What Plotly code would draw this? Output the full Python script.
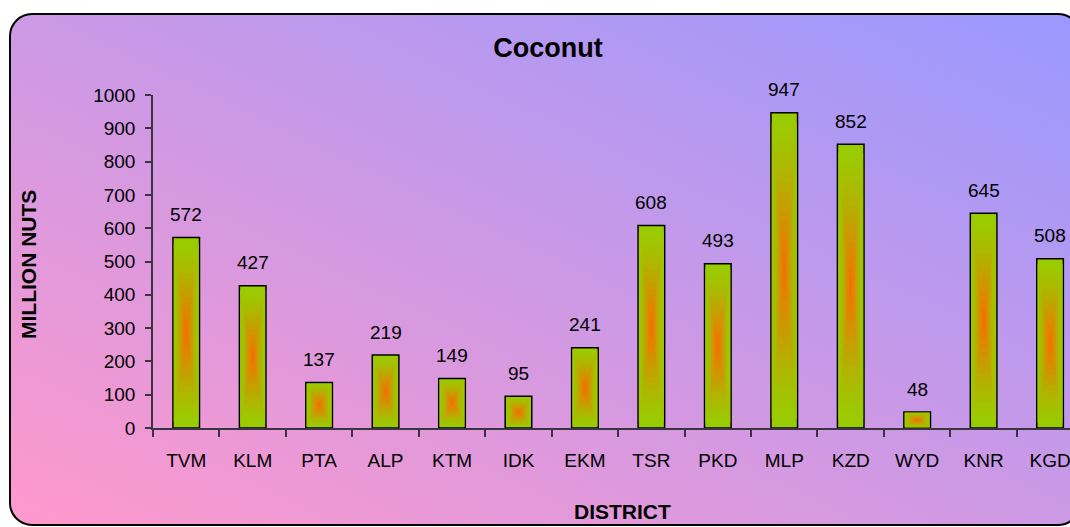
import base64
import plotly.graph_objects as go

# district-wise coconut production (million nuts)
districts = ['TVM', 'KLM', 'PTA', 'ALP', 'KTM', 'IDK', 'EKM', 'TSR', 'PKD', 'MLP', 'KZD', 'WYD', 'KNR', 'KGD']
production = [572, 427, 137, 219, 149, 95, 241, 608, 493, 947, 852, 48, 645, 508]
y_ticks = [0, 100, 200, 300, 400, 500, 600, 700, 800, 900, 1000]

W, H = 1070, 527
L, R, T, B = 153, 0, 95, 99
PW, PH = W - L - R, H - T - B

FONT = 'Arial, Liberation Sans, sans-serif'
GREEN = (153, 204, 0)
ORANGE = (255, 102, 0)


def px_x(p):
    # window pixel -> paper x
    return (p - L) / PW


def px_y(p):
    # window pixel -> paper y
    return (H - B - p) / PH


def mix(a, b, t):
    return 'rgb(%d,%d,%d)' % tuple(round(a[i] + (b[i] - a[i]) * t) for i in range(3))


# rounded frame with pink -> periwinkle gradient, used as a background image
FW, FH = 1072, 513
frame_svg = f'''<svg xmlns="http://www.w3.org/2000/svg" width="{FW}" height="{FH}" viewBox="0 0 {FW} {FH}" preserveAspectRatio="none">
<defs><linearGradient id="g" x1="0" y1="1" x2="1" y2="0">
<stop offset="0" stop-color="#FF99CC"/><stop offset="1" stop-color="#9999FF"/></linearGradient></defs>
<rect x="1" y="1" width="{FW - 2}" height="{FH - 2}" rx="22" ry="22" fill="url(#g)" stroke="#000" stroke-width="2"/>
</svg>'''
frame_src = 'data:image/svg+xml;base64,' + base64.b64encode(frame_svg.encode()).decode()

fig = go.Figure()

# bars drawn as concentric layers to mimic the centre gradient fill
n_layers = 16
bar_w = 0.4
for i in range(n_layers):
    f = 1 - i / n_layers
    fig.add_trace(go.Bar(
        x=districts,
        y=[v * f for v in production],
        base=[v * (1 - f) / 2 for v in production],
        width=bar_w * f,
        marker=dict(color=mix(GREEN, ORANGE, (1 - f) ** 1.4), opacity=1,
                    line=dict(color='black', width=1.5 if i == 0 else 0)),
        showlegend=False,
        hoverinfo='skip' if i else 'x+text',
        text=[str(v) for v in production] if i == 0 else None,
        textposition='none',
    ))

for d, v in zip(districts, production):
    fig.add_annotation(x=d, y=v, text=str(v), showarrow=False, yanchor='middle',
                       yshift=23, font=dict(family=FONT, size=19, color='black'))

fig.add_annotation(xref='paper', yref='paper', x=px_x(28), y=px_y(265), text='<b>MILLION NUTS</b>',
                   textangle=-90, showarrow=False, xanchor='center', yanchor='middle',
                   font=dict(family=FONT, size=21, color='black'))
fig.add_annotation(xref='paper', yref='paper', x=px_x(622), y=px_y(511), text='<b>DISTRICT</b>',
                   showarrow=False, xanchor='center', yanchor='middle',
                   font=dict(family=FONT, size=21, color='black'))

# frame anchored at its top-right so the right edge sits just past the window
fig.add_layout_image(dict(source=frame_src, xref='paper', yref='paper',
                          x=px_x(1081), y=px_y(13), sizex=FW / PW, sizey=FH / PH,
                          xanchor='right', yanchor='top', sizing='stretch', layer='below'))

fig.update_layout(
    width=W, height=H,
    margin=dict(l=L, r=R, t=T, b=B, autoexpand=False),
    paper_bgcolor='white',
    plot_bgcolor='rgba(0,0,0,0)',
    barmode='overlay',
    font=dict(family=FONT, size=19, color='black'),
    title=dict(text='<b>Coconut</b>', x=548 / W, y=1 - 47.5 / H,
               xref='container', yref='container', xanchor='center', yanchor='middle',
               font=dict(family=FONT, size=27, color='black')),
    xaxis=dict(type='category', range=[-0.5, 13.3], showline=True, linecolor='#3a3340', linewidth=1.5,
               ticks='outside', tickson='boundaries', ticklen=7, tickcolor='#3a3340', tickwidth=1.5,
               showgrid=False, ticklabelstandoff=14, tickfont=dict(size=19)),
    yaxis=dict(range=[0, 1000], tickvals=y_ticks, showline=True, linecolor='#3a3340', linewidth=1.5,
               ticks='outside', ticklen=6, tickcolor='#3a3340', tickwidth=1.5,
               showgrid=False, zeroline=False, ticklabelstandoff=6, tickfont=dict(size=19)),
)

# drop the default 8px body margin so the figure fills the window exactly
fig.write_html('out.html', config={'displayModeBar': False},
               post_script="document.body.style.margin='0';document.body.style.overflow='hidden';")
